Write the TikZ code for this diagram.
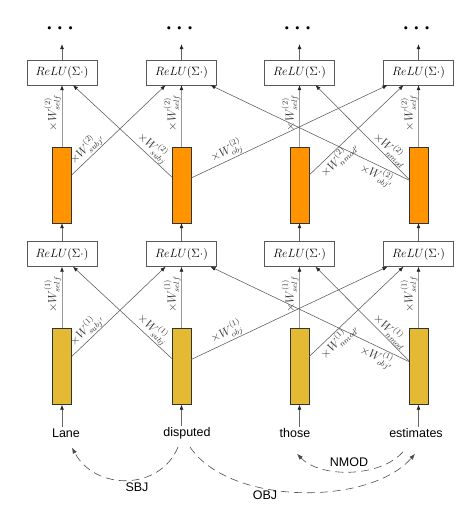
\documentclass[tikz,border=0pt]{standalone}
\usepackage{fontspec}
\usepackage{amsmath}
\newfontfamily\wordfont{Liberation Sans}
\usetikzlibrary{arrows.meta}
\definecolor{hidorange}{RGB}{255,148,0}
\definecolor{hidyellow}{RGB}{228,186,52}
\begin{document}
\begin{tikzpicture}[x=1pt,y=-1pt,
  relu/.style={draw=black!65, fill=white, minimum width=70pt, minimum height=25pt, inner sep=0pt, font=\fontsize{12.5}{14}\selectfont},
  hidden/.style={draw=black!80, minimum width=19pt, minimum height=76pt, inner sep=0pt},
  word/.style={font=\wordfont\fontsize{12.5}{14}\selectfont, inner sep=1pt},
  deplab/.style={font=\wordfont\fontsize{12.5}{14}\selectfont, inner sep=1pt},
  tip/.style={-{Latex[length=5pt,width=4pt,color=black!85]}},
  selfedge/.style={draw=black!40, line width=0.7pt, tip},
  cross/.style={draw=black!65, line width=0.55pt, tip},
  upedge/.style={draw=black!60, line width=0.7pt, tip},
  lab/.style={font=\fontsize{12}{14}\selectfont, sloped, inner sep=0.5pt, text=black!80},
  dep/.style={draw=black!70, line width=0.6pt, dash pattern=on 8pt off 5pt, -{Latex[length=6pt,width=4.5pt]}},
  dotsnode/.style={inner sep=0pt, font=\fontsize{20}{22}\selectfont}
]
\useasboundingbox (0,0) rectangle (470,517);

\foreach \L/\yb/\yr/\fc in {2/72.5/185/hidorange,1/254/366.5/hidyellow}{
  \foreach \i/\x in {1/62,2/181.5,3/299.5,4/418.5}{
    \node[relu] (b\L\i) at (\x,\yb) {$ReLU(\Sigma\cdot)$};
    \node[hidden, fill=\fc] (h\L\i) at (\x,\yr) {};
    \draw[selfedge] (h\L\i.north) -- node[lab,above,pos=0.55]{$\times W^{(\L)}_{self}$} (b\L\i.south);
  }
  \draw[cross] ([yshift=10pt]h\L1.east) -- node[lab,above,pos=0.22]{$\times W^{(\L)}_{subj'}$} ([xshift=-16pt]b\L2.south);
  \draw[cross] ([yshift=8pt]h\L2.west) -- node[lab,above,pos=0.25]{$\times W^{(\L)}_{subj}$} ([xshift=11pt]b\L1.south);
  \draw[cross] ([yshift=7pt]h\L2.east) -- node[lab,above,pos=0.2]{$\times W^{(\L)}_{obj}$} ([xshift=-31pt]b\L4.south);
  \draw[cross] ([yshift=5pt]h\L4.west) -- node[lab,below,pos=0.14]{$\times W^{(\L)}_{obj'}$} ([xshift=29pt]b\L2.south);
  \draw[cross] ([yshift=10pt]h\L3.east) -- node[lab,below,pos=0.245]{$\times W^{(\L)}_{nmod'}$} ([xshift=-15pt]b\L4.south);
  \draw[cross] ([yshift=6pt]h\L4.west) -- node[lab,above,pos=0.255]{$\times W^{(\L)}_{nmod}$} ([xshift=16pt]b\L3.south);
}

\foreach \i/\x in {1/62,2/181.5,3/299.5,4/418.5}{
  \node[dotsnode] (d\i) at (\x,29) {$\boldsymbol{\cdots}$};
  \draw[upedge, shorten >=10pt] (b2\i.north) -- (d\i.south);
  \draw[upedge] (b1\i.north) -- (h2\i.south);
}

\node[word] (w1) at (66,433) {Lane};
\node[word] (w2) at (187,433) {disputed};
\node[word] (w3) at (295,433) {those};
\node[word] (w4) at (416,433) {estimates};
\foreach \i in {1,2,3,4}{
  \draw[upedge] (w\i.north -| h1\i.south) -- (h1\i.south);
}

\draw[dep] ([shift={(-9pt,-7pt)}]w2.south) .. controls (160,491) and (95,491) .. ([shift={(6pt,-9pt)}]w1.south);
\draw[dep] ([shift={(3pt,-7pt)}]w2.south) .. controls (230,506) and (370,506) .. ([shift={(-1pt,-15pt)}]w4.south);
\draw[dep] ([shift={(-13pt,-13pt)}]w4.south) .. controls (380,478) and (320,478) .. ([shift={(2pt,-15pt)}]w3.south);

\node[deplab] (sbj) at (137,487) {SBJ};
\node[deplab] (obj) at (265,495) {OBJ};
\node[deplab] (nmod) at (349,462) {NMOD};
\end{tikzpicture}
\end{document}
